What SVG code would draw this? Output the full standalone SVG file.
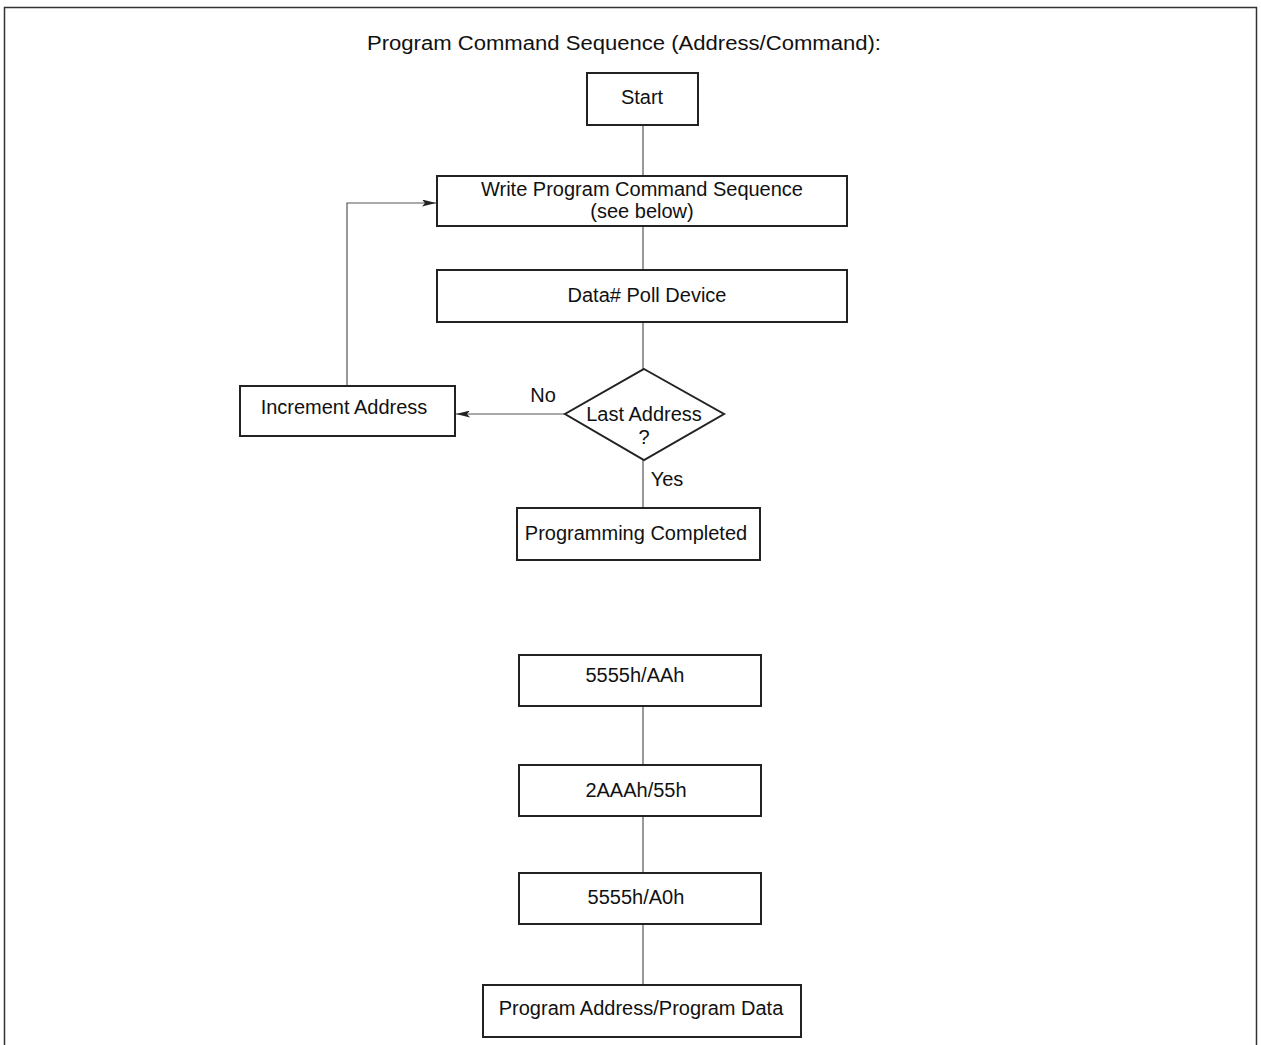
<svg xmlns="http://www.w3.org/2000/svg" width="1261" height="1045" viewBox="0 0 1261 1045">
<style>
text{font-family:"Liberation Sans",Arial,sans-serif;font-size:20px;fill:#111;text-anchor:middle}
.box{fill:#fff;stroke:#222;stroke-width:2}
.c{fill:none;stroke:#555;stroke-width:1.2}
</style>
<defs>
<marker id="ah" viewBox="0 0 14 7" refX="14" refY="3.5" markerWidth="14" markerHeight="7" markerUnits="userSpaceOnUse" orient="auto">
<path d="M0,0 L14,3.5 L0,7 L3,3.5 Z" fill="#222"/>
</marker>
</defs>
<rect x="0" y="0" width="1261" height="1045" fill="#fff"/>
<path d="M4.5,1045 V7.5 H1256.5 V1045" fill="none" stroke="#333" stroke-width="1.5"/>
<text x="624" y="50" font-size="21" textLength="514" lengthAdjust="spacingAndGlyphs">Program Command Sequence (Address/Command):</text>
<g id="connectors">
<line class="c" x1="643" y1="125" x2="643" y2="176"/>
<line class="c" x1="643" y1="226" x2="643" y2="270"/>
<line class="c" x1="643" y1="322" x2="643" y2="369"/>
<line class="c" x1="565" y1="414" x2="456" y2="414" marker-end="url(#ah)"/>
<polyline class="c" points="347,386 347,203 436,203" marker-end="url(#ah)"/>
<line class="c" x1="643" y1="460" x2="643" y2="508"/>
<line class="c" x1="643" y1="706" x2="643" y2="765"/>
<line class="c" x1="643" y1="816" x2="643" y2="873"/>
<line class="c" x1="643" y1="924" x2="643" y2="985"/>
<text x="543" y="402">No</text>
<text x="667" y="486">Yes</text>
</g>
<g id="start"><rect class="box" x="587" y="73" width="111" height="52"/><text x="642" y="104">Start</text></g>
<g id="write"><rect class="box" x="437" y="176" width="410" height="50"/><text x="642" y="196">Write Program Command Sequence</text><text x="642" y="218">(see below)</text></g>
<g id="poll"><rect class="box" x="437" y="270" width="410" height="52"/><text x="647" y="302">Data# Poll Device</text></g>
<g id="last"><polygon class="box" points="644,369 724,414 644,460 565,414"/><text x="644" y="421">Last Address</text><text x="644" y="444">?</text></g>
<g id="incr"><rect class="box" x="240" y="386" width="215" height="50"/><text x="344" y="414">Increment Address</text></g>
<g id="done"><rect class="box" x="517" y="508" width="243" height="52"/><text x="636" y="540">Programming Completed</text></g>
<g id="s1"><rect class="box" x="519" y="655" width="242" height="51"/><text x="635" y="682">5555h/AAh</text></g>
<g id="s2"><rect class="box" x="519" y="765" width="242" height="51"/><text x="636" y="797">2AAAh/55h</text></g>
<g id="s3"><rect class="box" x="519" y="873" width="242" height="51"/><text x="636" y="904">5555h/A0h</text></g>
<g id="s4"><rect class="box" x="483" y="985" width="318" height="52"/><text x="641" y="1015">Program Address/Program Data</text></g>
</svg>
